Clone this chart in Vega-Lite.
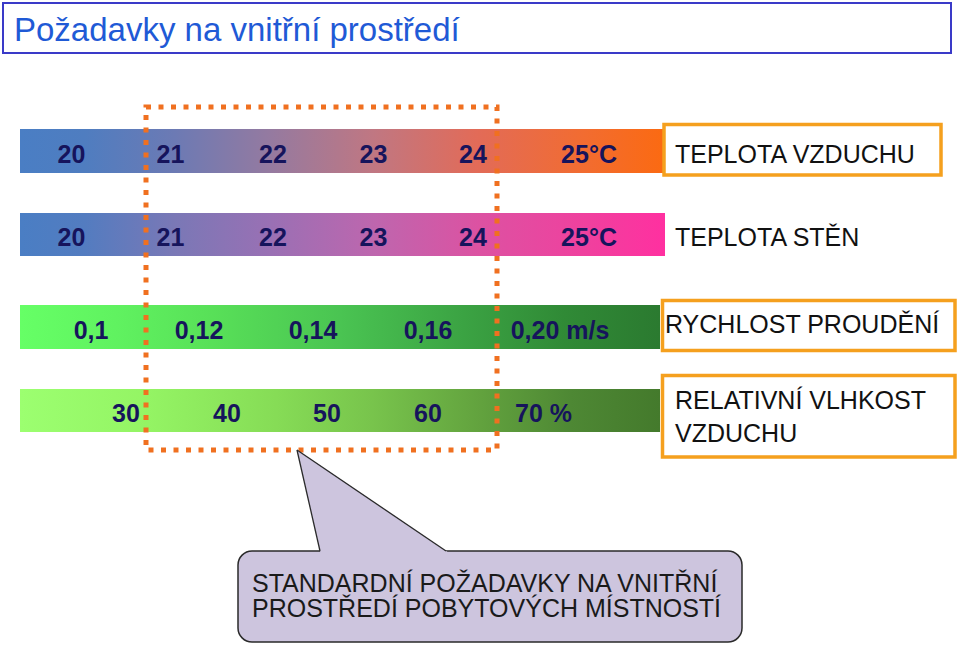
{
  "$schema": "https://vega.github.io/schema/vega-lite/v6.json",
  "width": 960,
  "height": 646,
  "padding": 0,
  "autosize": {"type": "none"},
  "background": "white",
  "config": {"view": {"stroke": null}},
  "datasets": {
    "frame": [{"x": 3, "x2": 951, "y": 3, "y2": 53}],
    "title": [{"x": 14, "y": 41, "text": "Požadavky na vnitřní prostředí"}],
    "bars": [
      {"row": "air", "x": 20, "x2": 663, "y": 129, "y2": 173},
      {"row": "wall", "x": 20, "x2": 665, "y": 213, "y2": 256},
      {"row": "speed", "x": 20, "x2": 660, "y": 305, "y2": 349},
      {"row": "hum", "x": 20, "x2": 660, "y": 389, "y2": 432}
    ],
    "values": [
      {"x": 71.5, "y": 163, "text": "20"},
      {"x": 170.5, "y": 163, "text": "21"},
      {"x": 273, "y": 163, "text": "22"},
      {"x": 373.5, "y": 163, "text": "23"},
      {"x": 473, "y": 163, "text": "24"},
      {"x": 589, "y": 163, "text": "25°C"},
      {"x": 71.5, "y": 246, "text": "20"},
      {"x": 170.5, "y": 246, "text": "21"},
      {"x": 273, "y": 246, "text": "22"},
      {"x": 373.5, "y": 246, "text": "23"},
      {"x": 473, "y": 246, "text": "24"},
      {"x": 589, "y": 246, "text": "25°C"},
      {"x": 91, "y": 339, "text": "0,1"},
      {"x": 199, "y": 339, "text": "0,12"},
      {"x": 313, "y": 339, "text": "0,14"},
      {"x": 428, "y": 339, "text": "0,16"},
      {"x": 560, "y": 339, "text": "0,20 m/s"},
      {"x": 126, "y": 422, "text": "30"},
      {"x": 227, "y": 422, "text": "40"},
      {"x": 327, "y": 422, "text": "50"},
      {"x": 428, "y": 422, "text": "60"},
      {"x": 543.5, "y": 422, "text": "70 %"}
    ],
    "boxes": [
      {"x": 664, "x2": 941, "y": 124.5, "y2": 175},
      {"x": 662.5, "x2": 955, "y": 300.5, "y2": 350.5},
      {"x": 662.5, "x2": 955, "y": 375.5, "y2": 457}
    ],
    "labels": [
      {"x": 675, "y": 163, "text": "TEPLOTA VZDUCHU"},
      {"x": 675, "y": 246, "text": "TEPLOTA STĚN"},
      {"x": 665, "y": 333, "text": "RYCHLOST PROUDĚNÍ"},
      {"x": 675, "y": 409, "text": "RELATIVNÍ VLHKOST\nVZDUCHU"}
    ],
    "selection": [{"x": 146, "x2": 497, "y": 107, "y2": 450}],
    "callout": [{"x": 238, "x2": 742, "y": 551, "y2": 642}],
    "pointer": [
      {"x": 297, "y": 450, "y2": 450},
      {"x": 320.5, "y": 465.6, "y2": 553},
      {"x": 449, "y": 553, "y2": 553}
    ],
    "edges": [
      {"x": 297, "y": 450, "x2": 320, "y2": 551},
      {"x": 297, "y": 450, "x2": 446, "y2": 551}
    ],
    "callouttext": [
      {"x": 252, "y": 592, "text": "STANDARDNÍ POŽADAVKY NA VNITŘNÍ\nPROSTŘEDÍ POBYTOVÝCH MÍSTNOSTÍ"}
    ]
  },
  "layer": [
    {
      "data": {"name": "frame"},
      "mark": {"type": "rect", "fill": "white", "stroke": "#3a3ac8", "strokeWidth": 2},
      "encoding": {
        "x": {"field": "x", "type": "quantitative", "scale": {"domain": [0, 960], "nice": false, "zero": false}, "axis": null},
        "x2": {"field": "x2"},
        "y": {"field": "y", "type": "quantitative", "scale": {"domain": [0, 646], "nice": false, "zero": false, "reverse": true}, "axis": null},
        "y2": {"field": "y2"}
      }
    },
    {
      "data": {"name": "title"},
      "mark": {"type": "text", "align": "left", "baseline": "alphabetic", "font": "Liberation Sans", "fontSize": 33, "color": "#1f5ad6"},
      "encoding": {
        "x": {"field": "x", "type": "quantitative", "axis": null},
        "y": {"field": "y", "type": "quantitative", "axis": null},
        "text": {"field": "text"}
      }
    },
    {
      "data": {"name": "bars"},
      "transform": [{"filter": "datum.row === 'air'"}],
      "mark": {"type": "rect", "fill": {"gradient": "linear", "stops": [
        {"offset": 0, "color": "#4a7ec4"},
        {"offset": 0.1, "color": "#4f7dc0"},
        {"offset": 0.24, "color": "#6c7ab4"},
        {"offset": 0.39, "color": "#957aa0"},
        {"offset": 0.55, "color": "#c07782"},
        {"offset": 0.71, "color": "#e26b58"},
        {"offset": 0.88, "color": "#f26c30"},
        {"offset": 1, "color": "#fb6a12"}
      ]}},
      "encoding": {
        "x": {"field": "x", "type": "quantitative", "axis": null},
        "x2": {"field": "x2"},
        "y": {"field": "y", "type": "quantitative", "axis": null},
        "y2": {"field": "y2"}
      }
    },
    {
      "data": {"name": "bars"},
      "transform": [{"filter": "datum.row === 'wall'"}],
      "mark": {"type": "rect", "fill": {"gradient": "linear", "stops": [
        {"offset": 0, "color": "#4a7ec4"},
        {"offset": 0.1, "color": "#537cc0"},
        {"offset": 0.24, "color": "#7a78b6"},
        {"offset": 0.39, "color": "#9a70b4"},
        {"offset": 0.55, "color": "#be66ae"},
        {"offset": 0.71, "color": "#dc52a2"},
        {"offset": 0.88, "color": "#f0409e"},
        {"offset": 1, "color": "#ff30a0"}
      ]}},
      "encoding": {
        "x": {"field": "x", "type": "quantitative", "axis": null},
        "x2": {"field": "x2"},
        "y": {"field": "y", "type": "quantitative", "axis": null},
        "y2": {"field": "y2"}
      }
    },
    {
      "data": {"name": "bars"},
      "transform": [{"filter": "datum.row === 'speed'"}],
      "mark": {"type": "rect", "fill": {"gradient": "linear", "stops": [
        {"offset": 0, "color": "#66ff66"},
        {"offset": 0.15, "color": "#60f260"},
        {"offset": 0.3, "color": "#58e058"},
        {"offset": 0.5, "color": "#4ac452"},
        {"offset": 0.68, "color": "#3ca544"},
        {"offset": 0.85, "color": "#308a36"},
        {"offset": 1, "color": "#2b7a30"}
      ]}},
      "encoding": {
        "x": {"field": "x", "type": "quantitative", "axis": null},
        "x2": {"field": "x2"},
        "y": {"field": "y", "type": "quantitative", "axis": null},
        "y2": {"field": "y2"}
      }
    },
    {
      "data": {"name": "bars"},
      "transform": [{"filter": "datum.row === 'hum'"}],
      "mark": {"type": "rect", "fill": {"gradient": "linear", "stops": [
        {"offset": 0, "color": "#9cff70"},
        {"offset": 0.2, "color": "#94f464"},
        {"offset": 0.4, "color": "#86dc56"},
        {"offset": 0.55, "color": "#78c44c"},
        {"offset": 0.72, "color": "#62a23e"},
        {"offset": 0.86, "color": "#4e8834"},
        {"offset": 1, "color": "#447a2c"}
      ]}},
      "encoding": {
        "x": {"field": "x", "type": "quantitative", "axis": null},
        "x2": {"field": "x2"},
        "y": {"field": "y", "type": "quantitative", "axis": null},
        "y2": {"field": "y2"}
      }
    },
    {
      "data": {"name": "values"},
      "mark": {"type": "text", "align": "center", "baseline": "alphabetic", "font": "Liberation Sans", "fontWeight": "bold", "fontSize": 25, "color": "#16145c"},
      "encoding": {
        "x": {"field": "x", "type": "quantitative", "axis": null},
        "y": {"field": "y", "type": "quantitative", "axis": null},
        "text": {"field": "text"}
      }
    },
    {
      "data": {"name": "boxes"},
      "mark": {"type": "rect", "fill": "white", "stroke": "#f5a01e", "strokeWidth": 3.5},
      "encoding": {
        "x": {"field": "x", "type": "quantitative", "axis": null},
        "x2": {"field": "x2"},
        "y": {"field": "y", "type": "quantitative", "axis": null},
        "y2": {"field": "y2"}
      }
    },
    {
      "data": {"name": "labels"},
      "mark": {"type": "text", "align": "left", "baseline": "alphabetic", "font": "Liberation Sans", "fontSize": 25, "lineBreak": "\n", "lineHeight": 33, "color": "#111111"},
      "encoding": {
        "x": {"field": "x", "type": "quantitative", "axis": null},
        "y": {"field": "y", "type": "quantitative", "axis": null},
        "text": {"field": "text"}
      }
    },
    {
      "data": {"name": "selection"},
      "mark": {"type": "rect", "fill": null, "fillOpacity": 0, "stroke": "#f07020", "strokeWidth": 5, "strokeDash": [5, 7.5], "strokeCap": "butt"},
      "encoding": {
        "x": {"field": "x", "type": "quantitative", "axis": null},
        "x2": {"field": "x2"},
        "y": {"field": "y", "type": "quantitative", "axis": null},
        "y2": {"field": "y2"}
      }
    },
    {
      "data": {"name": "callout"},
      "mark": {"type": "rect", "fill": "#cdc5de", "stroke": "#2a2a2a", "strokeWidth": 1.5, "cornerRadius": 14},
      "encoding": {
        "x": {"field": "x", "type": "quantitative", "axis": null},
        "x2": {"field": "x2"},
        "y": {"field": "y", "type": "quantitative", "axis": null},
        "y2": {"field": "y2"}
      }
    },
    {
      "data": {"name": "pointer"},
      "mark": {"type": "area", "orient": "vertical", "color": "#cdc5de", "opacity": 1},
      "encoding": {
        "x": {"field": "x", "type": "quantitative", "axis": null},
        "y": {"field": "y", "type": "quantitative", "axis": null},
        "y2": {"field": "y2"}
      }
    },
    {
      "data": {"name": "edges"},
      "mark": {"type": "rule", "color": "#2a2a2a", "strokeWidth": 1.3},
      "encoding": {
        "x": {"field": "x", "type": "quantitative", "axis": null},
        "x2": {"field": "x2"},
        "y": {"field": "y", "type": "quantitative", "axis": null},
        "y2": {"field": "y2"}
      }
    },
    {
      "data": {"name": "callouttext"},
      "mark": {"type": "text", "align": "left", "baseline": "alphabetic", "font": "Liberation Sans", "fontSize": 25, "lineBreak": "\n", "lineHeight": 25, "color": "#1a1a1a"},
      "encoding": {
        "x": {"field": "x", "type": "quantitative", "axis": null},
        "y": {"field": "y", "type": "quantitative", "axis": null},
        "text": {"field": "text"}
      }
    }
  ]
}
